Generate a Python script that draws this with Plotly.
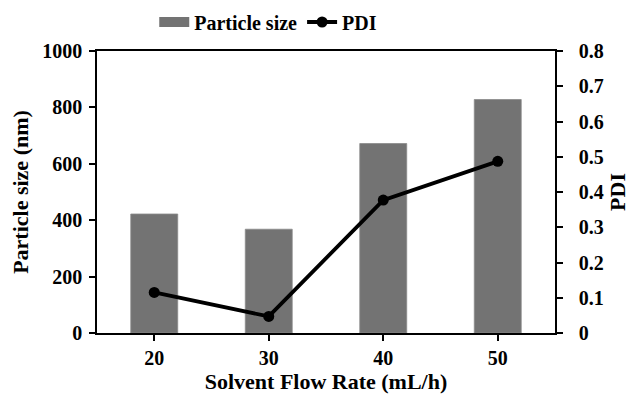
import plotly.graph_objects as go

flow_rates = ["20", "30", "40", "50"]
particle_size = [422, 368, 672, 828]
pdi = [0.115, 0.047, 0.377, 0.487]

FONT = "Liberation Serif"
BAR_COLOR = "#737373"

fig = go.Figure()
fig.add_trace(go.Bar(
    x=flow_rates, y=particle_size, name="Particle size",
    marker=dict(color=BAR_COLOR, line=dict(color="#8a8a8a", width=0.8)),
    yaxis="y", showlegend=False,
))
# legend-only proxy giving a wide rectangular swatch for the bar series
fig.add_trace(go.Scatter(
    x=[None], y=[None], name="Particle size", mode="lines",
    line=dict(color=BAR_COLOR, width=12), yaxis="y", hoverinfo="skip",
))
fig.add_trace(go.Scatter(
    x=flow_rates, y=pdi, name="PDI", mode="lines+markers",
    line=dict(color="black", width=3.8),
    marker=dict(color="black", size=11),
    yaxis="y2",
))

fig.update_layout(
    width=630, height=398,
    margin=dict(l=97, r=75, t=51, b=65, autoexpand=False),
    paper_bgcolor="white", plot_bgcolor="white",
    font=dict(family=FONT, size=20, color="black", weight="bold"),
    bargap=0.59,
    showlegend=True,
    legend=dict(orientation="h", x=0.125, xanchor="left",
                yref="container", y=1 - 22 / 398, yanchor="middle",
                font=dict(family=FONT, size=20, color="black", weight="bold"),
                itemwidth=30, traceorder="normal", bgcolor="rgba(0,0,0,0)"),
    xaxis=dict(
        type="category", range=[-0.5, 3.5], automargin=False,
        showline=True, linecolor="black", linewidth=1.5, mirror=True,
        ticks="outside", ticklen=6, tickcolor="black", tickwidth=1.5,
        showgrid=False, zeroline=False,
        tickfont=dict(family=FONT, size=20, weight="bold"),
        title=dict(text="Solvent Flow Rate (mL/h)", standoff=6,
                   font=dict(family=FONT, size=22, weight="bold")),
    ),
    yaxis=dict(
        range=[0, 1000], tickvals=[0, 200, 400, 600, 800, 1000], automargin=False,
        showline=True, linecolor="black", linewidth=1.5,
        ticks="outside", ticklen=6, tickcolor="black", tickwidth=1.5,
        showgrid=False, zeroline=False,
        ticklabelstandoff=3,
        tickfont=dict(family=FONT, size=20, weight="bold"),
        title=dict(text="Particle size (nm)", standoff=8,
                   font=dict(family=FONT, size=22, weight="bold")),
    ),
    yaxis2=dict(
        range=[0, 0.8], tickvals=[0, 0.1, 0.2, 0.3, 0.4, 0.5, 0.6, 0.7, 0.8],
        ticktext=["0", "0.1", "0.2", "0.3", "0.4", "0.5", "0.6", "0.7", "0.8"],
        overlaying="y", side="right", automargin=False,
        showline=True, linecolor="black", linewidth=1.5,
        ticks="outside", ticklen=6, tickcolor="black", tickwidth=1.5,
        showgrid=False, zeroline=False,
        ticklabelstandoff=12,
        tickfont=dict(family=FONT, size=20, weight="bold"),
        title=dict(text="PDI", standoff=10,
                   font=dict(family=FONT, size=22, weight="bold")),
    ),
)

fig.write_html("out.html")
